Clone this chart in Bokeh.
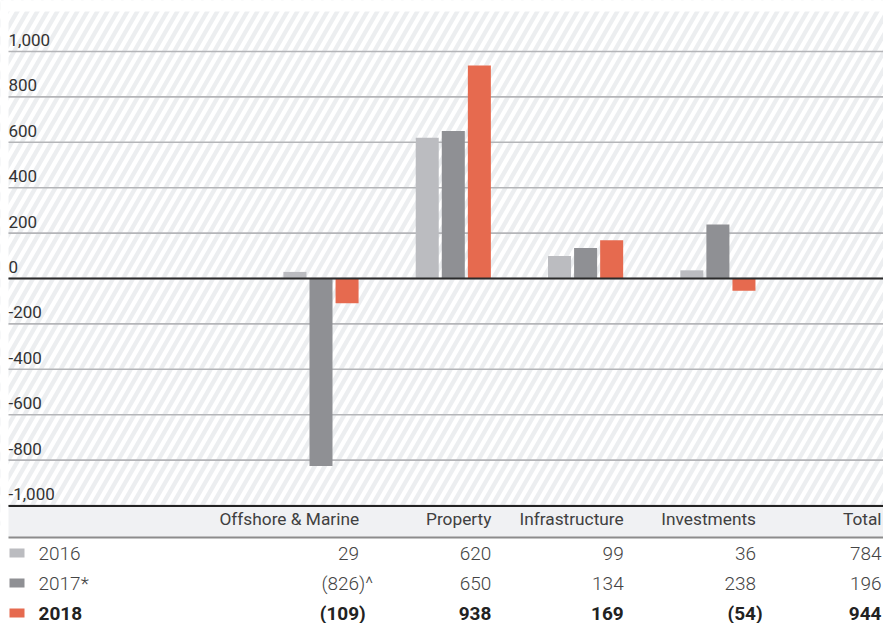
import numpy as np
from bokeh.plotting import figure
from bokeh.models import Range1d
from bokeh.core.properties import value
from bokeh.embed import file_html
from bokeh.resources import INLINE

# ---- data -------------------------------------------------------------
segments = ["Offshore & Marine", "Property", "Infrastructure", "Investments"]
years = ["2016", "2017*", "2018"]
v2016 = [29, 620, 99, 36]
v2017 = [-826, 650, 134, 238]
v2018 = [-109, 938, 169, -54]
notes_2017 = ["^", "", "", ""]
y_ticks = [1000, 800, 600, 400, 200, 0, -200, -400, -600, -800, -1000]

series = [v2016, v2017, v2018]
notes = [[""] * 4, notes_2017, [""] * 4]
colors = ["#bbbcc0", "#8f9094", "#e66a4f"]
totals = [sum(v) for v in series]

# ---- geometry ---------------------------------------------------------
W, H = 883, 623
ZERO_PX = 278          # pixel row of the zero line
PX_PER_UNIT = 0.227    # vertical scale
GROUP_PX = 132.3       # spacing of the category groups
FIRST_GROUP_PX = 320.5
LEFT, TOP, BOTTOM = 8, 11, 505
BASE_SHIFT = 8.5       # lifts alphabetic baselines to where the glyphs should sit

FONT = value("Roboto")
LIGHT = value("Roboto Light, Roboto")

p = figure(width=W, height=H, output_backend="svg", toolbar_location=None,
           x_range=Range1d(-FIRST_GROUP_PX / GROUP_PX, (W - FIRST_GROUP_PX) / GROUP_PX),
           y_range=Range1d(-(H - ZERO_PX) / PX_PER_UNIT, ZERO_PX / PX_PER_UNIT),
           min_border=0, outline_line_color=None, background_fill_color="white",
           border_fill_color="white")
p.extra_x_ranges = {"px": Range1d(0, W)}
p.extra_y_ranges = {"px": Range1d(H, 0)}
p.axis.visible = False
p.grid.visible = False

# diagonal striped backdrop
k = 1 / np.tan(np.radians(60))
starts = np.arange(-320, W + 10, 10.0)
y_lo, y_hi = BOTTOM + 20, 0
p.segment(x0=starts, y0=[y_lo] * len(starts),
          x1=starts + (y_lo - y_hi) * k, y1=[y_hi] * len(starts),
          line_color="#eceef0", line_width=4.3,
          x_range_name="px", y_range_name="px")
# keep the stripes inside their panel
p.quad(left=[0, 0, 0], right=[LEFT, W, W], top=[0, 0, BOTTOM],
       bottom=[H, TOP, H], fill_color="white", line_color=None,
       x_range_name="px", y_range_name="px")

# horizontal grid lines
p.segment(x0=[LEFT] * len(y_ticks), x1=[W] * len(y_ticks), y0=y_ticks, y1=y_ticks,
          line_color="#b4b5b8", line_width=1.6, x_range_name="px")

# bars
idx = np.arange(len(segments))
offsets = [-0.197, 0.0, 0.197]
for vals, off, col in zip(series, offsets, colors):
    p.vbar(x=idx + off, top=vals, bottom=0, width=0.174,
           fill_color=col, line_color=None)

# zero line
p.segment(x0=[LEFT], x1=[W], y0=[0], y1=[0], line_color="#2b2b2b",
          line_width=2, x_range_name="px")

# tick labels sitting on top of their grid lines
p.text(x=[LEFT] * len(y_ticks), y=y_ticks, text=[f"{t:,}" for t in y_ticks],
       x_range_name="px", y_offset=-3 - BASE_SHIFT, text_font=FONT,
       text_font_size="17px", text_color="#333333", text_align="left",
       text_baseline="alphabetic")

# ---- table ------------------------------------------------------------
p.quad(left=[LEFT], right=[W], top=[BOTTOM], bottom=[537], fill_color="#f0f1f3",
       line_color=None, x_range_name="px", y_range_name="px")
p.segment(x0=[LEFT], x1=[W], y0=[BOTTOM + 0.5], y1=[BOTTOM + 0.5],
          line_color="#222222", line_width=2, x_range_name="px", y_range_name="px")
p.segment(x0=[LEFT], x1=[W], y0=[537], y1=[537],
          line_color="#8c8c8c", line_width=2, x_range_name="px", y_range_name="px")

col_x = idx + 0.288   # right edge of each table column, in group units
TOTAL_X = 881         # right edge of the total column, in pixels
HEADER_Y = 527 - BASE_SHIFT
ROW_Y = [561 - BASE_SHIFT, 591 - BASE_SHIFT, 621 - BASE_SHIFT]
SWATCH_Y = [552.5, 582.5, 612.5]

p.text(x=col_x, y=[HEADER_Y] * 4, text=segments, y_range_name="px",
       text_font=FONT, text_font_size="17.3px", text_color="#404040",
       text_align="right", text_baseline="alphabetic")
p.text(x=[TOTAL_X], y=[HEADER_Y], text=["Total"], x_range_name="px",
       y_range_name="px", text_font=FONT, text_font_size="17.3px",
       text_color="#404040", text_align="right", text_baseline="alphabetic")


def split_number(v, note=""):
    """Digits aligned on the column edge; closing bracket and note hang past it."""
    if v < 0:
        return f"({abs(v):,}", ")" + note
    return f"{v:,}", note


for r, (vals, yr, col, nts) in enumerate(zip(series, years, colors, notes)):
    bold = r == 2
    style = "bold" if bold else "normal"
    font = FONT if bold else LIGHT
    tcol = "#222222" if bold else "#444444"
    y = ROW_Y[r]
    # legend swatch and year label
    p.rect(x=[16.5], y=[SWATCH_Y[r]], width=15, height=9, fill_color=col,
           line_color=None, x_range_name="px", y_range_name="px")
    p.text(x=[38], y=[y], text=[yr], x_range_name="px", y_range_name="px",
           text_font=font, text_font_size="19px", text_font_style=style,
           text_color=tcol, text_align="left", text_baseline="alphabetic")
    parts = [split_number(v, n) for v, n in zip(vals, nts)]
    p.text(x=col_x, y=[y] * 4, text=[a for a, _ in parts], y_range_name="px",
           text_font=font, text_font_size="19px", text_font_style=style,
           text_color=tcol, text_align="right", text_baseline="alphabetic")
    p.text(x=col_x, y=[y] * 4, text=[b for _, b in parts], y_range_name="px",
           text_font=font, text_font_size="19px", text_font_style=style,
           text_color=tcol, text_align="left", text_baseline="alphabetic")
    ta, tb = split_number(totals[r])
    p.text(x=[TOTAL_X], y=[y], text=[ta + tb], x_range_name="px",
           y_range_name="px", text_font=font, text_font_size="19px",
           text_font_style=style, text_color=tcol, text_align="right",
           text_baseline="alphabetic")

open("out.html", "w").write(file_html(p, INLINE))
